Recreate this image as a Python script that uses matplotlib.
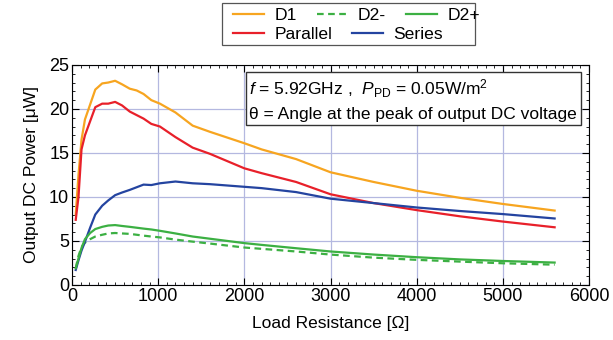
import numpy as np
import matplotlib
matplotlib.use("Agg")
import matplotlib.pyplot as plt
from matplotlib.ticker import MultipleLocator
from matplotlib.patches import Rectangle

plt.rcParams['font.family'] = ['Liberation Sans', 'DejaVu Sans']
plt.rcParams['mathtext.fontset'] = 'custom'
plt.rcParams['mathtext.rm'] = 'Liberation Sans'
plt.rcParams['mathtext.it'] = 'Liberation Sans:italic'

# ── Data ──────────────────────────────────────────────────────────────────────
load_r = [43, 75, 110, 150, 210, 270, 350, 420, 500, 580, 670, 750, 830, 920,
          1020, 1200, 1400, 1600, 2000, 2200, 2600, 3000, 3500, 4000, 4500,
          5000, 5600]

d1 = [8.0, 12.5, 16.5, 18.8, 20.5, 22.2, 22.9, 23.0, 23.2, 22.8, 22.3, 22.1,
      21.7, 21.0, 20.6, 19.6, 18.1, 17.4, 16.1, 15.4, 14.3, 12.8, 11.7, 10.7,
      9.9, 9.2, 8.45]
parallel = [7.4, 10.0, 15.4, 17.0, 18.6, 20.2, 20.6, 20.6, 20.8, 20.4, 19.7,
            19.3, 18.9, 18.3, 18.0, 16.8, 15.6, 14.9, 13.25, 12.7, 11.7, 10.3,
            9.3, 8.5, 7.8, 7.2, 6.55]
series = [1.7, 2.8, 3.9, 4.9, 6.5, 8.0, 9.0, 9.6, 10.2, 10.5, 10.8, 11.1,
          11.4, 11.35, 11.55, 11.75, 11.55, 11.45, 11.15, 11.0, 10.55, 9.8,
          9.3, 8.8, 8.4, 8.05, 7.55]
d2_plus = [1.9, 3.0, 4.2, 5.2, 5.9, 6.35, 6.6, 6.75, 6.8, 6.7, 6.6, 6.5, 6.4,
           6.3, 6.15, 5.85, 5.5, 5.25, 4.75, 4.55, 4.17, 3.8, 3.45, 3.15, 2.9,
           2.72, 2.54]
d2_minus = [1.9, 3.3, 4.3, 4.8, 5.2, 5.5, 5.7, 5.85, 5.9, 5.85, 5.8, 5.7, 5.6,
            5.5, 5.4, 5.15, 4.92, 4.7, 4.25, 4.1, 3.8, 3.45, 3.1, 2.85, 2.65,
            2.46, 2.3]

# ── Figure ────────────────────────────────────────────────────────────────────
fig = plt.figure(figsize=(6.13, 3.40), dpi=100)
ax = fig.add_axes([0.1175, 0.162, 0.8435, 0.647])

lw = 1.6
c_or, c_red, c_blue, c_green = "#f7a520", "#e8202a", "#2444a0", "#3cb043"
h_d1, = ax.plot(load_r, d1, color=c_or, lw=lw, label="D1")
h_par, = ax.plot(load_r, parallel, color=c_red, lw=lw, label="Parallel")
h_d2m, = ax.plot(load_r, d2_minus, color=c_green, lw=lw, ls=(0, (3, 2)), label="D2-")
h_ser, = ax.plot(load_r, series, color=c_blue, lw=lw, label="Series")
h_d2p, = ax.plot(load_r, d2_plus, color=c_green, lw=lw, label="D2+")

ax.set_xlim(0, 6000)
ax.set_ylim(0, 25)
ax.xaxis.set_major_locator(MultipleLocator(1000))
ax.xaxis.set_minor_locator(MultipleLocator(100))
ax.yaxis.set_major_locator(MultipleLocator(5))
ax.yaxis.set_minor_locator(MultipleLocator(1))
ax.tick_params(which="both", direction="in", top=True, right=True, labelsize=13)
ax.tick_params(which="major", length=5, width=0.8, pad=2)
ax.tick_params(which="minor", length=2.5, width=0.6)
ax.grid(True, which="major", color="#b4b8e0", lw=0.9)
ax.set_axisbelow(True)

ax.set_xlabel("Load Resistance [Ω]", fontsize=12.5, labelpad=8)
ax.set_ylabel("Output DC Power [μW]", fontsize=12.5, labelpad=7)

ax.text(0.343, 0.943,
        r"$f$ = 5.92GHz ,  $P_{\rm PD}$ = 0.05W/m$^2$" + "\n"
        + "θ = Angle at the peak of output DC voltage",
        transform=ax.transAxes, fontsize=12.5, va="top", ha="left",
        linespacing=1.55,
        bbox=dict(boxstyle="square,pad=0.2", fc="white", ec="#333333", lw=1.0))

# legend: two independent rows inside one frame
leg_kw = dict(frameon=False, fontsize=12.6, handlelength=1.75, handletextpad=0.6,
              columnspacing=1.15, borderpad=0.0, loc="upper left")
fig.legend(handles=[h_d1, h_d2m, h_d2p], ncol=3,
           bbox_to_anchor=(0.366, 1.004), **leg_kw)
fig.legend(handles=[h_par, h_ser], ncol=2,
           bbox_to_anchor=(0.366, 0.946), **leg_kw)
fig.add_artist(Rectangle((0.362, 0.868), 0.413, 0.124, transform=fig.transFigure,
                         fill=False, ec="#555555", lw=0.9))

fig.savefig("out.png", dpi=100)
